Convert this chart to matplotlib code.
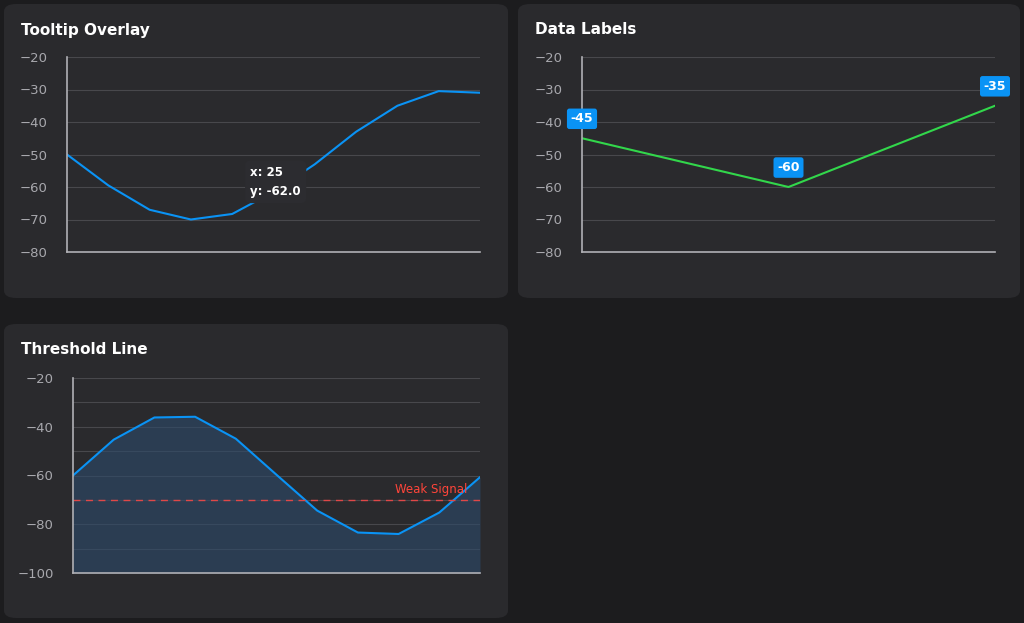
import matplotlib
matplotlib.use("Agg")
import matplotlib.pyplot as plt
from matplotlib.patches import FancyBboxPatch

# data
tooltip_x = [0, 5, 10, 15, 20, 25, 30, 35, 40, 45, 50]
tooltip_y = [-50, -59.5, -67, -70, -68.3, -61.5, -53, -43, -35, -30.5, -31]
label_x = [0, 1, 2]
label_y = [-45, -60, -35]
thresh_x = [0, 1, 2, 3, 4, 5, 6, 7, 8, 9, 10]
thresh_y = [-60, -45.3, -36.2, -35.9, -44.9, -59.7, -74.4, -83.4, -84, -75.2, -60.7]
threshold = -70

W, H = 1024, 623
BG = "#1c1c1e"
PANEL = "#2a2a2d"
GRID = "#48484c"
TXT = "#a8a8ad"
BLUE = "#0a93f5"
GREEN = "#32d74b"
RED = "#ff453a"

fig = plt.figure(figsize=(W / 100, H / 100), dpi=100)
fig.patch.set_facecolor(BG)

def panel(x0, y0, x1, y1, title):
    fig.patches.append(FancyBboxPatch((x0 / W, 1 - y1 / H), (x1 - x0) / W, (y1 - y0) / H,
                                      boxstyle="round,pad=0,rounding_size=0.012",
                                      transform=fig.transFigure, fc=PANEL, ec="none", zorder=-5))
    fig.text((x0 + 17) / W, 1 - (y0 + 26) / H, title, color="white", fontsize=11,
             fontweight="bold", va="center")

def make_ax(x0, y0, x1, y1):
    ax = fig.add_axes([x0 / W, 1 - y1 / H, (x1 - x0) / W, (y1 - y0) / H])
    ax.set_facecolor("none")
    for s in ["top", "right"]:
        ax.spines[s].set_visible(False)
    for s in ["left", "bottom"]:
        ax.spines[s].set_color("#b0b0b5")
        ax.spines[s].set_linewidth(1.2)
    ax.tick_params(axis="y", length=0, colors=TXT, labelsize=9.5, pad=14)
    ax.set_xticks([])
    ax.grid(axis="y", color=GRID, linewidth=0.8)
    ax.set_axisbelow(True)
    return ax

panel(4, 4, 508, 298, "Tooltip Overlay")
panel(518, 4, 1020, 298, "Data Labels")
panel(4, 324, 508, 618, "Threshold Line")

# tooltip overlay
ax1 = make_ax(67, 57, 480, 252)
ax1.plot(tooltip_x, tooltip_y, color=BLUE, lw=1.5)
ax1.set_xlim(tooltip_x[0], tooltip_x[-1])
ax1.set_ylim(-80, -20)
ax1.set_yticks(range(-80, -19, 10))
ax1.text(22.2, -58.4, "x: %d\ny: %.1f" % (tooltip_x[5], tooltip_y[5] - 0.5), color="white",
         fontsize=8.5, fontweight="bold", linespacing=1.6, va="center", zorder=5,
         bbox=dict(boxstyle="round,pad=0.45", fc="#2c2c30", ec="none"))

# data labels
ax2 = make_ax(582, 57, 995, 252)
ax2.plot(label_x, label_y, color=GREEN, lw=1.5)
ax2.set_xlim(label_x[0], label_x[-1])
ax2.set_ylim(-80, -20)
ax2.set_yticks(range(-80, -19, 10))
for x, y in zip(label_x, label_y):
    ax2.annotate("%d" % y, (x, y), xytext=(0, 14), textcoords="offset points", ha="center",
                 va="center", color="white", fontsize=9, fontweight="bold", zorder=5,
                 annotation_clip=False,
                 bbox=dict(boxstyle="round,pad=0.3,rounding_size=0.2", fc=BLUE, ec="none"))

# threshold line
ax3 = make_ax(73, 378, 480, 573)
ax3.plot(thresh_x, thresh_y, color=BLUE, lw=1.5)
ax3.fill_between(thresh_x, thresh_y, -100, color="#2d4a6b", alpha=0.6, lw=0)
ax3.axhline(threshold, color="#e04848", lw=1, ls=(0, (5, 4)))
ax3.text(9.7, threshold + 1.5, "Weak Signal", color=RED, fontsize=8.5, ha="right", va="bottom")
ax3.set_xlim(thresh_x[0], thresh_x[-1])
ax3.set_ylim(-100, -20)
ax3.set_yticks(range(-100, -19, 20))
ax3.set_yticks(range(-100, -19, 10), minor=True)
ax3.tick_params(axis="y", which="minor", length=0)
ax3.grid(axis="y", which="minor", color=GRID, linewidth=0.8)

fig.savefig("out.png", dpi=100, facecolor=BG)
